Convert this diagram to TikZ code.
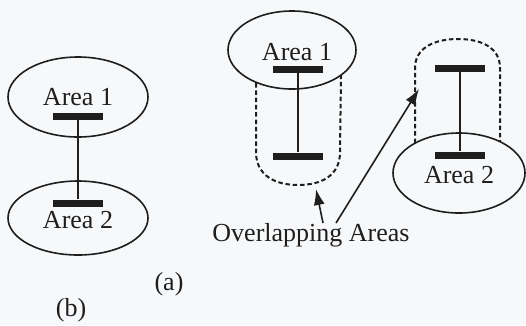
\documentclass[tikz,border=0pt]{standalone}
\usepackage{fontspec}
\setmainfont{Liberation Serif}
\usetikzlibrary{shapes.geometric,arrows.meta}

\definecolor{ink}{HTML}{1E1E1E}
\definecolor{paper}{HTML}{F7F8FA}

\tikzset{
  area/.style={draw=ink, line width=1.6pt, ellipse, inner sep=0pt},
  lbl/.style={text=ink, inner sep=0pt, anchor=base,
              font=\fontsize{26}{30}\selectfont},
  bar/.style={fill=ink, rectangle, inner sep=0pt,
              minimum width=50pt, minimum height=7pt},
  link/.style={draw=ink, line width=1.6pt},
  overlap/.style={draw=ink, line width=2pt, dash pattern=on 4.5pt off 2.8pt},
  pointer/.style={draw=ink, line width=1.6pt,
                  -{Latex[length=16pt,width=11pt]}}
}

\begin{document}
\begin{tikzpicture}[x=1pt,y=-1pt]
  \fill[paper] (0,0) rectangle (526,325);
  \useasboundingbox (0,0) rectangle (526,325);

  % ---- left diagram: two separate areas joined by one link ----
  \node[area, minimum width=140pt, minimum height=80pt] (la1) at (78,97) {};
  \node[area, minimum width=140pt, minimum height=74pt] (la2) at (78,218) {};
  \node[lbl] (la1t) at (78,105) {Area 1};
  \node[lbl] (la2t) at (78,228) {Area 2};
  \node[bar] (lb1) at (78,116.5) {};
  \node[bar] (lb2) at (78,203) {};
  \draw[link] (lb1.south) -- (lb2.north);

  % ---- right diagram: areas extended by overlapping regions ----
  \node[area, minimum width=128pt, minimum height=78pt] (ra1) at (292,50) {};
  \node[area, minimum width=132pt, minimum height=80pt] (ra2) at (459,173) {};
  \node[lbl] (ra1t) at (297,60) {Area 1};
  \node[lbl] (ra2t) at (459,183) {Area 2};

  \node[bar] (rb1) at (298,69) {};
  \node[bar] (rb2) at (298,156) {};
  \draw[link] (rb1.south) -- (rb2.north);

  \node[bar] (rb3) at (460,68.5) {};
  \node[bar] (rb4) at (460,155) {};
  \draw[link] (rb3.south) -- (rb4.north);

  % dashed overlapping region below Area 1
  \draw[overlap] (256,83) -- (256,152)
    .. controls (256,176) and (276,185) .. (298,185)
    .. controls (321,185) and (340,176) .. (340,152) -- (341,75);

  % dashed overlapping region above Area 2
  \draw[overlap] (415,143) -- (415,68)
    .. controls (415,48) and (434,39) .. (458,39)
    .. controls (482,39) and (500,48) .. (500,68) -- (500,141);

  % ---- captions and pointers ----
  \node[lbl] (ov) at (311,241) {Overlapping Areas};
  \coordinate (t1) at (323,223);
  \coordinate (t2) at (336,223);
  \coordinate (h1) at (316,189);
  \coordinate (h2) at (419,89);
  \draw[pointer] (t1) -- (h1);
  \draw[pointer] (t2) -- (h2);

  \node[lbl] (capa) at (169,290) {(a)};
  \node[lbl] (capb) at (71,316) {(b)};
\end{tikzpicture}
\end{document}
